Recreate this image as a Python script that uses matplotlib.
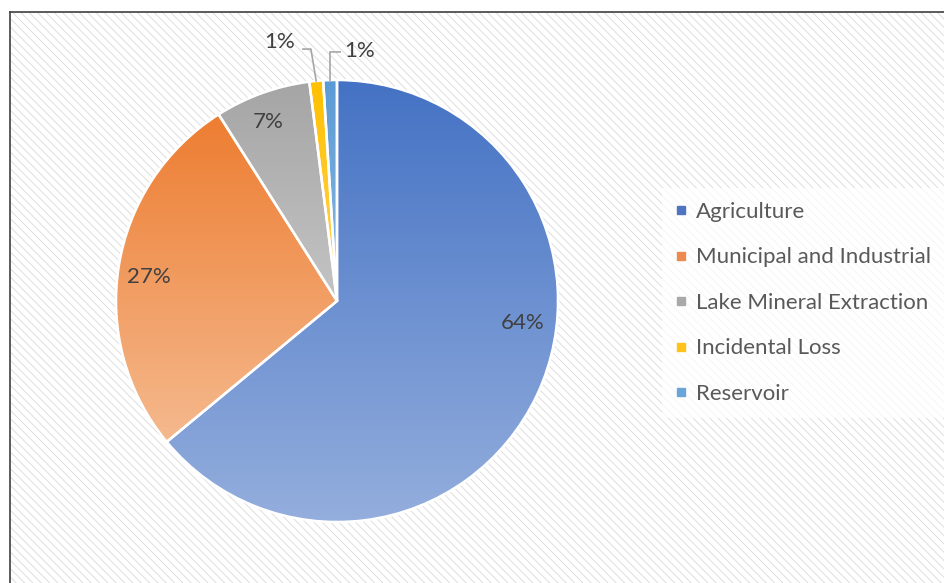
import matplotlib
matplotlib.use("Agg")
import matplotlib.pyplot as plt
import numpy as np
from matplotlib.colors import to_rgba
from matplotlib.lines import Line2D
from matplotlib.patches import Rectangle

# data
categories = ["Agriculture", "Municipal and Industrial", "Lake Mineral Extraction",
              "Incidental Loss", "Reservoir"]
shares = [64, 27, 7, 1, 1]
pct_labels = ["64%", "27%", "7%", "1%", "1%"]

# styling (dark top colour, light bottom colour of each gradient)
top_colors = ["#4472C4", "#ED7D31", "#A5A5A5", "#FFC000", "#5B9BD5"]
bottom_colors = ["#94AEDD", "#F5B98E", "#C4C4C4", "#FFD45A", "#8BB8E2"]
legend_colors = ["#4F75C2", "#EC8A4F", "#A9A9A9", "#FFC21A", "#6AA4D8"]
# label positions in pie-radius units
label_pos = [(0.84, -0.10), (-0.85, 0.11), (-0.31, 0.81), (-0.26, 1.172), (0.10, 1.13)]
# leader lines: (x start, x knee, y) in pie-radius units
leaders = [None, None, None, (-0.154, -0.118, 1.14), (0.014, -0.032, 1.127)]

plt.rcParams["font.family"] = ["Lato", "DejaVu Sans"]
plt.rcParams["hatch.linewidth"] = 0.6
plt.rcParams["hatch.color"] = "#D9D9D9"

W, H = 944, 583
fig = plt.figure(figsize=(W / 100, H / 100), dpi=100)

# hatched chart area with frame
bg = fig.add_axes([10 / W, -0.02, 1.0, (H - 12) / H + 0.02])
bg.set_xlim(0, 1)
bg.set_ylim(0, 1)
bg.add_patch(Rectangle((0, 0), 1, 1, facecolor="white", edgecolor="#D9D9D9",
                       lw=0, hatch="\\\\\\\\"))
bg.set_xticks([])
bg.set_yticks([])
for side in ["right", "bottom"]:
    bg.spines[side].set_visible(False)
for side in ["left", "top"]:
    bg.spines[side].set_color("#404040")
    bg.spines[side].set_linewidth(1.2)

# pie
cx, cy, r = 337, 301, 221
ax = fig.add_axes([(cx - r) / W, (H - cy - r) / H, 2 * r / W, 2 * r / H])
wedges, _ = ax.pie(shares, startangle=90, counterclock=False,
                   wedgeprops=dict(edgecolor="white", linewidth=1.8))

for w, c1, c2 in zip(wedges, top_colors, bottom_colors):
    ext = w.get_path().get_extents()
    a, b = np.array(to_rgba(c1)), np.array(to_rgba(c2))
    t = np.linspace(0, 1, 256)[:, None]
    grad = (a[None, :] * (1 - t) + b[None, :] * t)[:, None, :]
    im = ax.imshow(grad, extent=(ext.x0, ext.x1, ext.y0, ext.y1), origin="upper",
                   aspect="auto", interpolation="bilinear", zorder=0.5)
    im.set_clip_path(w)
    w.set_facecolor("none")
    w.set_zorder(1)

for i, (w, lab) in enumerate(zip(wedges, pct_labels)):
    x, y = label_pos[i]
    ax.text(x, y, lab, ha="center", va="center", fontsize=16, color="#404040",
            zorder=3)
    if leaders[i] is not None:
        ang = np.deg2rad((w.theta1 + w.theta2) / 2)
        x0, xk, yk = leaders[i]
        ax.plot([x0, xk, np.cos(ang)], [yk, yk, np.sin(ang)],
                color="#A6A6A6", lw=1.2, zorder=2, clip_on=False)

ax.set_xlim(-1, 1)
ax.set_ylim(-1, 1)
ax.set_aspect("equal")
ax.axis("off")

# legend
handles = [Line2D([], [], marker="s", ls="none", markersize=6, color=c)
           for c in legend_colors]
leg = fig.legend(handles, categories, loc="upper left",
                 bbox_to_anchor=(662 / W, 1 - 188 / H), bbox_transform=fig.transFigure,
                 fontsize=16, frameon=True, facecolor="white", edgecolor="none",
                 framealpha=0.75, fancybox=False, handlelength=0.5, handletextpad=0.4,
                 labelspacing=1.15, borderpad=0.62, borderaxespad=0)
for txt in leg.get_texts():
    txt.set_color("#595959")

fig.savefig("out.png", dpi=100)
